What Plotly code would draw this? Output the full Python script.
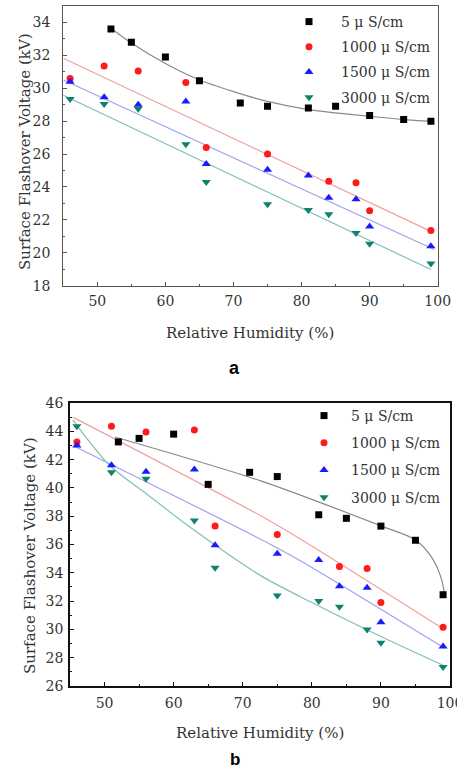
import plotly.graph_objects as go

# ---------------- data : panel a ----------------
x_a_5 = [52, 55, 60, 65, 71, 75, 81, 85, 90, 95, 99]
y_a_5 = [33.6, 32.8, 31.9, 30.45, 29.1, 28.9, 28.8, 28.9, 28.35, 28.1, 28.0]
x_a_1000 = [46, 51, 56, 63, 66, 75, 84, 88, 90, 99]
y_a_1000 = [30.6, 31.35, 31.05, 30.35, 26.4, 26.0, 24.35, 24.25, 22.55, 21.35]
x_a_1500 = [46, 51, 56, 63, 66, 75, 81, 84, 88, 90, 99]
y_a_1500 = [30.4, 29.45, 29.0, 29.2, 25.4, 25.05, 24.7, 23.35, 23.25, 21.6, 20.4]
x_a_3000 = [46, 51, 56, 63, 66, 75, 81, 84, 88, 90, 99]
y_a_3000 = [29.35, 29.05, 28.75, 26.6, 24.3, 22.95, 22.6, 22.35, 21.2, 20.55, 19.35]

# fitted curves
fx_a_5 = [52, 55, 60, 65, 70, 75, 81, 85, 90, 95, 99]
fy_a_5 = [33.65, 32.75, 31.5, 30.5, 29.8, 29.2, 28.7, 28.5, 28.3, 28.1, 28.0]
fx_a_1000 = [45, 99]
fy_a_1000 = [31.82, 21.3]
fx_a_1500 = [45, 99.5]
fy_a_1500 = [30.5, 20.2]
fx_a_3000 = [45, 99]
fy_a_3000 = [29.58, 18.98]

# ---------------- data : panel b ----------------
x_b_5 = [52, 55, 60, 65, 71, 75, 81, 85, 90, 95, 99]
y_b_5 = [43.25, 43.5, 43.8, 40.25, 41.1, 40.8, 38.1, 37.85, 37.3, 36.3, 32.45]
x_b_1000 = [46, 51, 56, 63, 66, 75, 84, 88, 90, 99]
y_b_1000 = [43.25, 44.35, 43.95, 44.1, 37.3, 36.7, 34.45, 34.3, 31.9, 30.15]
x_b_1500 = [46, 51, 56, 63, 66, 75, 81, 84, 88, 90, 99]
y_b_1500 = [43.0, 41.6, 41.15, 41.3, 35.95, 35.35, 34.9, 33.05, 32.95, 30.5, 28.8]
x_b_3000 = [46, 51, 56, 63, 66, 75, 81, 84, 88, 90, 99]
y_b_3000 = [44.35, 41.1, 40.65, 37.7, 34.35, 32.4, 32.0, 31.6, 30.0, 29.05, 27.35]

# fitted curves
fx_b_5 = [51.5, 72.6, 90.1, 94.9, 97.4, 98.8, 99.2]
fy_b_5 = [43.6, 40.5, 37.3, 36.35, 35.05, 33.5, 32.46]
fx_b_1000 = [45.4, 72.6, 78.4, 99.2]
fy_b_1000 = [45.0, 38.03, 36.37, 29.98]
fx_b_1500 = [45.4, 72.6, 78.4, 99.2]
fy_b_1500 = [43.0, 36.37, 34.83, 28.67]
fx_b_3000 = [45.4, 50.7, 56, 63, 72.6, 80, 90, 99.3]
fy_b_3000 = [44.8, 41.6, 39.6, 37.0, 33.8, 31.9, 29.5, 27.4]

series_names = ["5 \u03bc S/cm", "1000 \u03bc S/cm", "1500 \u03bc S/cm", "3000 \u03bc S/cm"]
marker_colors = ["#000000", "#ff1a1a", "#1a1aff", "#10806f"]
line_colors = ["#8a8a8a", "#f2a0a0", "#a0a0f0", "#80c0b5"]
symbols = ["square", "circle", "triangle-up", "triangle-down"]

FONT = "DejaVu Serif"

fig = go.Figure()

panels = [
    ("x", "y", "legend",
     [(x_a_5, y_a_5), (x_a_1000, y_a_1000), (x_a_1500, y_a_1500), (x_a_3000, y_a_3000)],
     [(fx_a_5, fy_a_5), (fx_a_1000, fy_a_1000), (fx_a_1500, fy_a_1500), (fx_a_3000, fy_a_3000)]),
    ("x2", "y2", "legend2",
     [(x_b_5, y_b_5), (x_b_1000, y_b_1000), (x_b_1500, y_b_1500), (x_b_3000, y_b_3000)],
     [(fx_b_5, fy_b_5), (fx_b_1000, fy_b_1000), (fx_b_1500, fy_b_1500), (fx_b_3000, fy_b_3000)]),
]

for xa, ya, leg, pts, fits in panels:
    for i in range(4):
        fx, fy = fits[i]
        fig.add_trace(go.Scatter(
            x=fx, y=fy, mode="lines", xaxis=xa, yaxis=ya,
            line=dict(color=line_colors[i], width=1.2, shape="spline", smoothing=0.8),
            showlegend=False, hoverinfo="skip"))
    for i in range(4):
        px_, py_ = pts[i]
        size = 7 if symbols[i] in ("square", "circle") else 8
        fig.add_trace(go.Scatter(
            x=px_, y=py_, mode="markers", xaxis=xa, yaxis=ya,
            name=series_names[i], legend=leg, legendgroup=leg + str(i),
            marker=dict(symbol=symbols[i], size=size, color=marker_colors[i],
                        line=dict(width=0))))

W, H = 457, 770

def xdom(l, r):
    return [l / W, r / W]

def ydom(t, b):
    return [1 - b / H, 1 - t / H]

tickfont = dict(family=FONT, size=14, color="#333333")
common_x = dict(range=[45, 100], tick0=50, dtick=10, ticks="inside", ticklen=4,
                showline=True, mirror=True, showgrid=False, zeroline=False,
                tickfont=tickfont, automargin=False, ticklabeloverflow="allow",
                minor=dict(ticks="inside", ticklen=2, dtick=5, tick0=50, showgrid=False))
common_y = dict(ticks="inside", ticklen=4, dtick=2,
                showline=True, mirror=True, showgrid=False, zeroline=False,
                tickfont=tickfont, automargin=False, ticklabeloverflow="allow",
                minor=dict(ticks="inside", ticklen=2, dtick=1, showgrid=False))

fig.update_layout(
    width=W, height=H,
    margin=dict(l=0, r=0, t=0, b=0, pad=0),
    paper_bgcolor="white", plot_bgcolor="white",
    font=dict(family=FONT, size=14, color="#333333"),
    xaxis=dict(domain=xdom(63.3, 437.7), anchor="y", linecolor="#555555", linewidth=1.2,
               tickcolor="#555555", minor_tickcolor="#555555", ticklabelstandoff=2, **common_x),
    yaxis=dict(domain=ydom(6, 285.7), anchor="x", range=[18, 35], linecolor="#555555",
               linewidth=1.2, tickcolor="#555555", minor_tickcolor="#555555",
               ticklabelstandoff=9, **common_y),
    xaxis2=dict(domain=xdom(70, 450), anchor="y2", linecolor="#111111", linewidth=1.5,
                tickcolor="#111111", minor_tickcolor="#111111", ticklabelstandoff=3, **common_x),
    yaxis2=dict(domain=ydom(403, 686), anchor="x2", range=[26, 46], linecolor="#111111",
                linewidth=1.5, tickcolor="#111111", minor_tickcolor="#111111",
                ticklabelstandoff=2, **common_y),
    legend=dict(x=277 / W, y=1 - 6 / H, xanchor="left", yanchor="top",
                bgcolor="rgba(0,0,0,0)", itemwidth=54, tracegroupgap=4,
                font=dict(family=FONT, size=14, color="#333333")),
    legend2=dict(x=297 / W, y=1 - 400 / H, xanchor="left", yanchor="top",
                 bgcolor="rgba(0,0,0,0)", itemwidth=44, tracegroupgap=6,
                 font=dict(family=FONT, size=14, color="#333333")),
    showlegend=True,
)

annotations = [
    dict(text="Relative Humidity (%)", x=250 / W, y=1 - 333 / H, font=dict(family=FONT, size=15, color="#333333")),
    dict(text="Relative Humidity (%)", x=260 / W, y=1 - 733 / H, font=dict(family=FONT, size=15, color="#333333")),
    dict(text="Surface Flashover Voltage (kV)", x=25 / W, y=1 - 152 / H, textangle=-90,
         font=dict(family=FONT, size=15, color="#333333")),
    dict(text="Surface Flashover Voltage (kV)", x=30 / W, y=1 - 556 / H, textangle=-90,
         font=dict(family=FONT, size=15, color="#333333")),
    dict(text="<b>a</b>", x=234 / W, y=1 - 368 / H, font=dict(family="Liberation Sans", size=18, color="#000000")),
    dict(text="<b>b</b>", x=235 / W, y=1 - 759 / H, font=dict(family="Liberation Sans", size=17, color="#000000")),
]
for a in annotations:
    a.update(xref="paper", yref="paper", showarrow=False, xanchor="center", yanchor="middle")
fig.update_layout(annotations=annotations)

fig.write_html("out.html", config={"displayModeBar": False},
               post_script="document.body.style.margin='0px';")
